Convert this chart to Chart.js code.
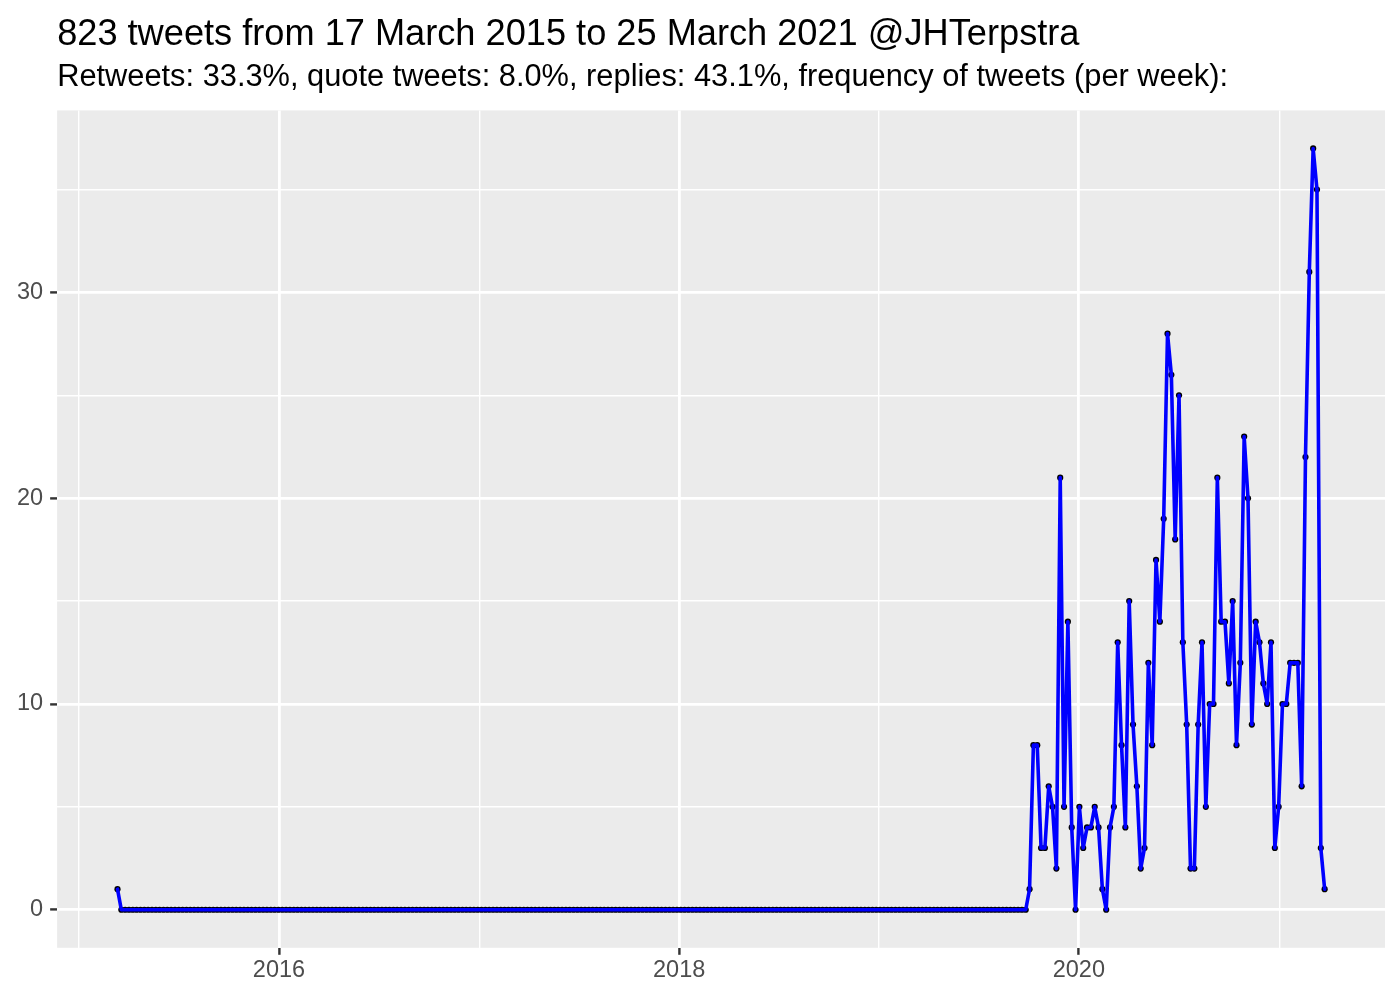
<!DOCTYPE html>
<html>
<head>
<meta charset="utf-8">
<title>Tweets per week @JHTerpstra</title>
<script src="https://cdn.jsdelivr.net/npm/chart.js@4.4.1/dist/chart.umd.min.js"></script>
<style>
  body { margin: 0; background: #fff; }
  #wrap { width: 1400px; height: 1000px; }
</style>
</head>
<body>
<div id="wrap"><canvas id="tweetChart" width="1400" height="1000"></canvas></div>
<script>
// weekly buckets, first one starts here, one value per week
var firstWeek = '2015-03-12';

// tweets per week
var weeklyTweets = [
  1,
  0,0,0,0,0,0,0,0,0,0, 0,0,0,0,0,0,0,0,0,0,
  0,0,0,0,0,0,0,0,0,0, 0,0,0,0,0,0,0,0,0,0,
  0,0,0,0,0,0,0,0,0,0, 0,0,0,0,0,0,0,0,0,0,
  0,0,0,0,0,0,0,0,0,0, 0,0,0,0,0,0,0,0,0,0,
  0,0,0,0,0,0,0,0,0,0, 0,0,0,0,0,0,0,0,0,0,
  0,0,0,0,0,0,0,0,0,0, 0,0,0,0,0,0,0,0,0,0,
  0,0,0,0,0,0,0,0,0,0, 0,0,0,0,0,0,0,0,0,0,
  0,0,0,0,0,0,0,0,0,0, 0,0,0,0,0,0,0,0,0,0,
  0,0,0,0,0,0,0,0,0,0, 0,0,0,0,0,0,0,0,0,0,
  0,0,0,0,0,0,0,0,0,0, 0,0,0,0,0,0,0,0,0,0,
  0,0,0,0,0,0,0,0,0,0, 0,0,0,0,0,0,0,0,0,0,
  0,0,0,0,0,0,0,0,0,0, 0,0,0,0,0,0,0,
  1,8,8,3,3,6,5,2,21,5,
  14,4,0,5,3,4,4,5,4,1,
  0,4,5,13,8,4,15,9,6,2,
  3,12,8,17,14,19,28,26,18,25,
  13,9,2,2,9,13,5,10,10,21,
  14,14,11,15,8,12,23,20,9,14,
  13,11,10,13,3,5,10,10,12,12,
  12,6,22,31,37,35,3,1
];

// axis ticks
var majorYears = [2016, 2018, 2020];
var minorYears = [2015, 2017, 2019, 2021];
var majorCounts = [0, 10, 20, 30];
var minorCounts = [5, 15, 25, 35];

var titleText = '823 tweets from 17 March 2015 to 25 March 2021 @JHTerpstra';
var subtitleText = 'Retweets: 33.3%, quote tweets: 8.0%, replies: 43.1%, frequency of tweets (per week):';

var DAY = 24 * 3600 * 1000;
var start = Date.parse(firstWeek + 'T00:00:00Z');
var points = weeklyTweets.map(function (v, i) {
  return { x: start + i * 7 * DAY, y: v };
});

// ggplot style 5% expansion on both axes
var xFirst = points[0].x, xLast = points[points.length - 1].x;
var xPad = (xLast - xFirst) * 0.05;
var yLo = Math.min.apply(null, weeklyTweets), yHi = Math.max.apply(null, weeklyTweets);
var yPad = (yHi - yLo) * 0.05;

function yearStamp(y) { return Date.UTC(y, 0, 1); }
function isMajorYear(v) { return majorYears.indexOf(new Date(v).getUTCFullYear()) >= 0; }

// grey panel behind the grid
var panelBg = {
  id: 'panelBg',
  beforeDraw: function (chart) {
    var a = chart.chartArea, ctx = chart.ctx;
    ctx.save();
    ctx.fillStyle = '#EBEBEB';
    ctx.fillRect(a.left, a.top, a.right - a.left, a.bottom - a.top);
    ctx.restore();
  }
};

var FONT = "'Liberation Sans', Arial, Helvetica, sans-serif";

var ctx = document.getElementById('tweetChart').getContext('2d');
var tweetChart = new Chart(ctx, {
  type: 'line',
  data: {
    datasets: [{
      // the line, drawn over the dots
      data: points,
      borderColor: '#0000FF',
      borderWidth: 3.6,
      borderJoinStyle: 'round',
      borderCapStyle: 'round',
      pointRadius: 0,
      tension: 0,
      fill: false,
      order: 1
    }, {
      // black dots
      data: points,
      showLine: false,
      pointRadius: 3.1,
      pointBackgroundColor: '#000000',
      pointBorderWidth: 0,
      order: 2
    }]
  },
  options: {
    responsive: false,
    animation: false,
    layout: { padding: { left: 10, right: 15, top: 0, bottom: 13 } },
    plugins: {
      legend: { display: false },
      tooltip: { enabled: false },
      title: {
        display: true,
        text: titleText,
        align: 'start',
        fullSize: false,
        color: '#000000',
        font: { family: FONT, size: 36.2, weight: 'normal', lineHeight: 1.2 },
        padding: { top: 13, bottom: 3 }
      },
      subtitle: {
        display: true,
        text: subtitleText,
        align: 'start',
        fullSize: false,
        color: '#000000',
        font: { family: FONT, size: 30.8, weight: 'normal', lineHeight: 1.2 },
        padding: { top: 0, bottom: 14 }
      }
    },
    scales: {
      x: {
        type: 'linear',
        min: xFirst - xPad,
        max: xLast + xPad,
        afterBuildTicks: function (scale) {
          scale.ticks = majorYears.concat(minorYears).sort().map(function (y) {
            return { value: yearStamp(y) };
          });
        },
        ticks: {
          autoSkip: false,
          maxRotation: 0,
          padding: 2,
          color: '#4D4D4D',
          font: { family: FONT, size: 23.5 },
          callback: function (v) {
            return isMajorYear(v) ? String(new Date(v).getUTCFullYear()) : '';
          }
        },
        grid: {
          color: '#FFFFFF',
          lineWidth: function (c) { return c.tick && isMajorYear(c.tick.value) ? 2.8 : 1.4; },
          tickColor: function (c) { return c.tick && isMajorYear(c.tick.value) ? '#333333' : 'rgba(0,0,0,0)'; },
          tickWidth: 2.4,
          tickLength: 7
        },
        border: { display: false }
      },
      y: {
        type: 'linear',
        min: yLo - yPad,
        max: yHi + yPad,
        afterBuildTicks: function (scale) {
          scale.ticks = majorCounts.concat(minorCounts).sort(function (a, b) { return a - b; }).map(function (v) {
            return { value: v };
          });
        },
        ticks: {
          autoSkip: false,
          padding: 7,
          color: '#4D4D4D',
          font: { family: FONT, size: 23.5 },
          callback: function (v) {
            return majorCounts.indexOf(v) >= 0 ? String(v) : '';
          }
        },
        grid: {
          color: '#FFFFFF',
          lineWidth: function (c) { return c.tick && majorCounts.indexOf(c.tick.value) >= 0 ? 2.8 : 1.4; },
          tickColor: function (c) { return c.tick && majorCounts.indexOf(c.tick.value) >= 0 ? '#333333' : 'rgba(0,0,0,0)'; },
          tickWidth: 2.4,
          tickLength: 7
        },
        border: { display: false }
      }
    }
  },
  plugins: [panelBg]
});
</script>
</body>
</html>
